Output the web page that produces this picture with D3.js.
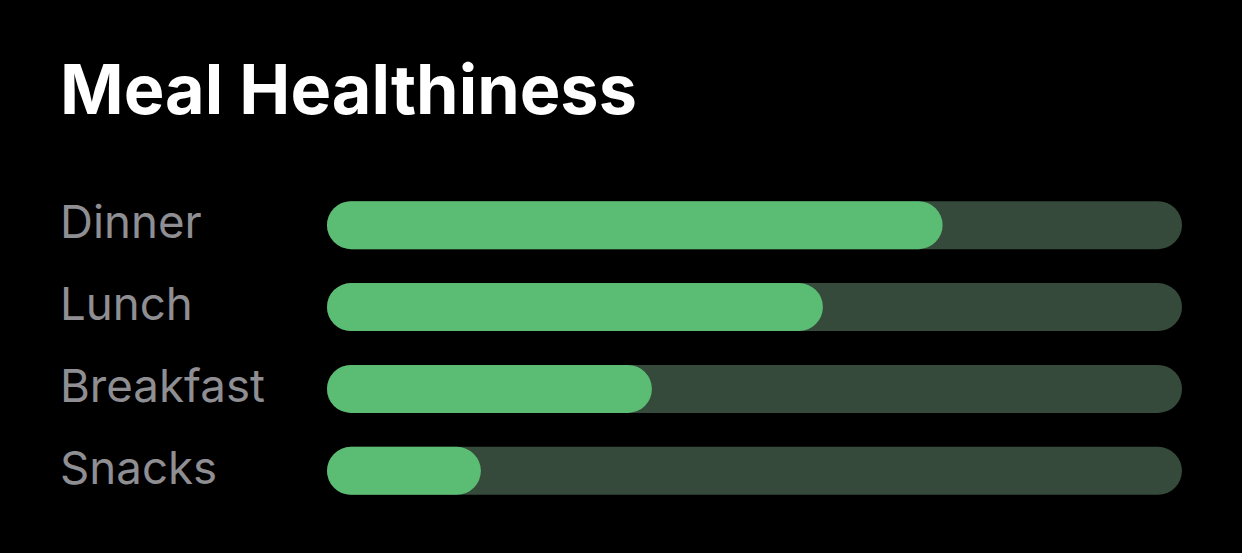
<!DOCTYPE html>
<html><head><meta charset="utf-8">
<script src="https://cdn.jsdelivr.net/npm/d3@7"></script>
<style>html,body{margin:0;padding:0;background:#000;}svg{display:block;}</style>
</head><body>
<svg id="c" width="1242" height="553"></svg>
<script>
const title = "Meal Healthiness";
const categories = ["Dinner", "Lunch", "Breakfast", "Snacks"];
const values = [0.72, 0.58, 0.38, 0.18];
const maxValue = 1;

const svg = d3.select("#c");
svg.append("rect").attr("width", 1242).attr("height", 553).attr("fill", "#000");

const t = svg.append("text").attr("x", 60).attr("y", 114)
  .attr("fill", "#fff").attr("font-family", "Inter, 'Open Sans', sans-serif")
  .attr("font-weight", 700).attr("font-size", 70).text(title);
const tw = t.node().getComputedTextLength();
t.attr("font-size", 70 * 577 / tw);

const x = d3.scaleLinear().domain([0, maxValue]).range([327, 1182]);
const y = d3.scaleBand().domain(categories).range([184, 512]).paddingInner(0.415).paddingOuter(0.21);

const bh = 48;
const rows = svg.selectAll("g.row").data(categories).join("g").attr("class", "row");

rows.append("rect")
  .attr("x", x(0)).attr("y", d => y(d) + y.bandwidth()/2 - bh/2)
  .attr("width", x(maxValue) - x(0)).attr("height", bh)
  .attr("rx", bh/2).attr("fill", "#354a3a");

rows.append("rect")
  .attr("x", x(0)).attr("y", d => y(d) + y.bandwidth()/2 - bh/2)
  .attr("width", (d, i) => x(values[i]) - x(0)).attr("height", bh)
  .attr("rx", bh/2).attr("fill", "#5bbd74");

const labels = rows.append("text")
  .attr("x", 60).attr("y", d => y(d) + y.bandwidth()/2 + 13)
  .attr("fill", "#8e8e93").attr("font-family", "Inter, 'Open Sans', sans-serif")
  .attr("font-size", 42).text(d => d);
const bw = labels.filter(d => d === "Breakfast").node().getComputedTextLength();
labels.attr("font-size", 42 * 205 / bw);
</script>
</body></html>
